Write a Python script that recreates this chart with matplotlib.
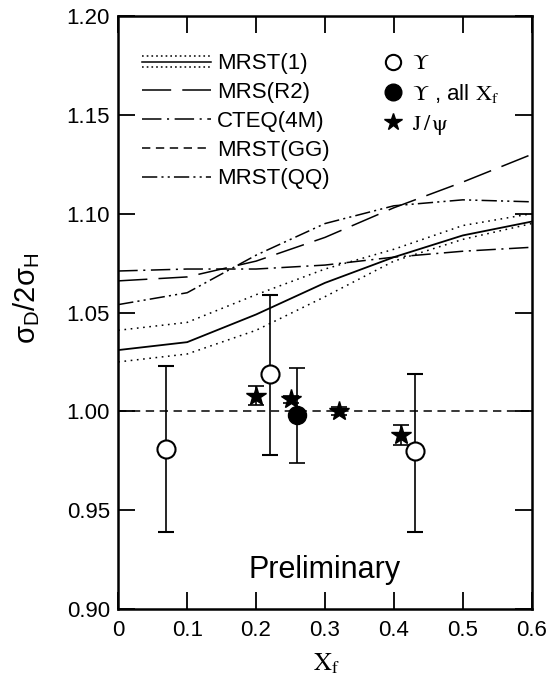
import numpy as np
import matplotlib
matplotlib.use('Agg')
import matplotlib.pyplot as plt
from matplotlib.lines import Line2D
from matplotlib.legend_handler import HandlerBase
from matplotlib.ticker import FixedLocator, FuncFormatter

plt.rcParams['font.family'] = ['Liberation Sans', 'DejaVu Sans']
plt.rcParams['mathtext.fontset'] = 'custom'
plt.rcParams['mathtext.rm'] = 'Liberation Sans'
plt.rcParams['mathtext.it'] = 'Liberation Sans:italic'
plt.rcParams['lines.scale_dashes'] = False

# model curves, sigma_D / 2 sigma_H vs x_F
xf = [0.0, 0.1, 0.2, 0.3, 0.4, 0.5, 0.6]
mrst1 = [1.031, 1.035, 1.049, 1.065, 1.078, 1.089, 1.096]
mrst1_hi = [1.041, 1.045, 1.059, 1.072, 1.082, 1.094, 1.100]
mrst1_lo = [1.025, 1.029, 1.041, 1.058, 1.076, 1.087, 1.095]
mrs_r2 = [1.066, 1.068, 1.076, 1.088, 1.103, 1.116, 1.130]
cteq4m = [1.071, 1.072, 1.072, 1.074, 1.078, 1.081, 1.083]
mrst_gg = [1.000, 1.000, 1.000, 1.000, 1.000, 1.000, 1.000]
mrst_qq = [1.054, 1.060, 1.079, 1.095, 1.104, 1.107, 1.106]

# upsilon bins
ups_x = [0.07, 0.22, 0.43]
ups_y = [0.981, 1.019, 0.980]
ups_elo = [0.042, 0.041, 0.041]
ups_ehi = [0.042, 0.040, 0.039]

# upsilon, integrated over x_F
upsall_x = [0.26]
upsall_y = [0.998]
upsall_err = [0.024]

# J/psi
jpsi_x = [0.20, 0.25, 0.32, 0.41]
jpsi_y = [1.008, 1.006, 1.000, 0.988]
jpsi_err = [0.005, 0.002, 0.002, 0.005]

xticks = [0, 0.1, 0.2, 0.3, 0.4, 0.5, 0.6]
xticklabels = ['0', '0.1', '0.2', '0.3', '0.4', '0.5', '0.6']
yticks = [0.90, 0.95, 1.00, 1.05, 1.10, 1.15, 1.20]


class HandlerBand(HandlerBase):
    # solid central line with dotted band edges above and below
    def create_artists(self, legend, orig_handle, xdescent, ydescent,
                       width, height, fontsize, trans):
        yc = height / 2.0 - ydescent
        off = 4.2
        arts = []
        for dy, ls in [(off, (0, (1.2, 2.2))), (0.0, '-'), (-off, (0, (1.2, 2.2)))]:
            l = Line2D([-xdescent, width - xdescent], [yc + dy, yc + dy],
                       color='black', lw=1.1, linestyle=ls, transform=trans)
            arts.append(l)
        return arts


fig = plt.figure(figsize=(5.5, 6.79), dpi=100)
ax = fig.add_axes([0.215, 0.1031, 0.7517, 0.8733])

lw = 1.1
dot = (0, (1.2, 3.3))
ax.plot(xf, mrst1_hi, color='black', lw=lw, linestyle=dot)
ax.plot(xf, mrst1_lo, color='black', lw=lw, linestyle=dot)
ax.plot(xf, mrst1, color='black', lw=1.3, linestyle='-')
ax.plot(xf, mrs_r2, color='black', lw=lw, linestyle=(0, (21, 8)))
ax.plot(xf, cteq4m, color='black', lw=lw, linestyle=(0, (14, 4, 1.5, 4)))
ax.plot(xf, mrst_gg, color='black', lw=lw, linestyle=(0, (6, 4)))
ax.plot(xf, mrst_qq, color='black', lw=lw, linestyle=(0, (11, 3, 1.5, 3, 1.5, 3)))

ax.errorbar(ups_x, ups_y, yerr=[ups_elo, ups_ehi], fmt='o', ms=13,
            mfc='white', mec='black', mew=1.5, color='black', elinewidth=1.2,
            capsize=6, capthick=1.2, zorder=5)
ax.errorbar(jpsi_x, jpsi_y, yerr=jpsi_err, fmt='*', ms=15, mfc='black',
            mec='black', color='black', elinewidth=1.2, capsize=6,
            capthick=1.2, zorder=6)
ax.errorbar(upsall_x, upsall_y, yerr=upsall_err, fmt='o', ms=13,
            mfc='black', mec='black', color='black', elinewidth=1.2,
            capsize=6, capthick=1.2, zorder=7)

ax.text(0.30, 0.9155, 'Preliminary', fontsize=22, ha='center', va='baseline')

ax.set_xlim(0, 0.6)
ax.set_ylim(0.90, 1.20)
ax.xaxis.set_major_locator(FixedLocator(xticks))
ax.set_xticklabels(xticklabels)
ax.yaxis.set_major_locator(FixedLocator(yticks))
ax.yaxis.set_major_formatter(FuncFormatter(lambda v, p: '%.2f' % v))
ax.tick_params(direction='in', length=12, width=1.3, labelsize=16,
               top=True, right=True)
ax.tick_params(axis='x', pad=8)
ax.tick_params(axis='y', pad=6)
for s in ax.spines.values():
    s.set_linewidth(1.8)

ax.set_ylabel(r'$\mathregular{\sigma_D/2\sigma_H}$', fontsize=21)
ax.yaxis.set_label_coords(-0.185, 0.524)
xl = ax.set_xlabel(r'$\mathrm{X_f}$', fontsize=18)
xl.set_math_fontfamily('stix')
ax.xaxis.set_label_coords(0.505, -0.072)

# model legend
h_band = (Line2D([], [], color='black'),)
h_r2 = Line2D([], [], color='black', lw=lw, linestyle=(0, (21, 8)))
h_cteq = Line2D([], [], color='black', lw=lw, linestyle=(0, (14, 4, 1.5, 4)))
h_gg = Line2D([], [], color='black', lw=lw, linestyle=(0, (6, 4)))
h_qq = Line2D([], [], color='black', lw=lw, linestyle=(0, (11, 3, 1.5, 3, 1.5, 3)))
leg1 = ax.legend([h_band, h_r2, h_cteq, h_gg, h_qq],
                 ['MRST(1)', 'MRS(R2)', 'CTEQ(4M)', 'MRST(GG)', 'MRST(QQ)'],
                 handler_map={tuple: HandlerBand()},
                 loc='upper left', bbox_to_anchor=(0.058, 0.937),
                 frameon=False, fontsize=16, handlelength=3.1,
                 handletextpad=0.25, labelspacing=0.35, borderpad=0,
                 borderaxespad=0)
ax.add_artist(leg1)

# data legend
m_open = Line2D([], [], ls='none', marker='o', ms=11, mfc='white',
                mec='black', mew=1.5)
m_full = Line2D([], [], ls='none', marker='o', ms=12, mfc='black', mec='black')
m_star = Line2D([], [], ls='none', marker='*', ms=13, mfc='black', mec='black')
leg2 = ax.legend([m_open, m_full, m_star],
                 [r'$\Upsilon$', r'$\Upsilon$ , all $\mathrm{X_f}$',
                  r'$\mathrm{J\,/\,\psi}$'],
                 loc='upper left', bbox_to_anchor=(0.638, 0.937),
                 frameon=False, fontsize=16, handlelength=1.0,
                 handletextpad=0.36, labelspacing=0.35, borderpad=0,
                 borderaxespad=0)
for t in leg2.get_texts():
    t.set_math_fontfamily('stix')

fig.savefig('out.png', dpi=100)
